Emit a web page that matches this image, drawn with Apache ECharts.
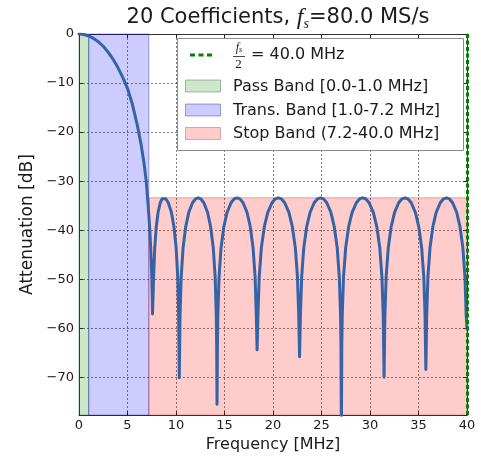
<!DOCTYPE html>
<html>
<head>
<meta charset="utf-8">
<title>FIR filter response</title>
<script src="https://cdn.jsdelivr.net/npm/echarts@6/dist/echarts.min.js"></script>
<style>
  html, body { margin: 0; padding: 0; background: #ffffff; }
  #chart { width: 481px; height: 458px; }
</style>
</head>
<body>
<div id="chart"></div>
<script>
// Magnitude response of the 20-tap low-pass FIR (frequency in MHz, level in dB)
const freqMHz = [
  0, 0.5, 1.0, 1.5, 2.0, 2.5, 3.0, 3.5, 4.0, 4.5, 5.0, 5.5, 6.0, 6.4, 6.7, 6.93,
  7.1, 7.2, 7.3, 7.4, 7.47, 7.51, 7.55, 7.58,
  7.694, 7.808, 7.968, 8.15, 8.378, 8.56, 8.72, 8.947, 9.206, 9.53, 9.789, 10.016, 10.178, 10.275, 10.308, 10.34,
  10.379, 10.418, 10.535, 10.729, 11.001, 11.313, 11.702, 12.013, 12.285, 12.557, 12.869, 13.258, 13.569, 13.841, 14.036, 14.152, 14.191, 14.23,
  14.271, 14.313, 14.437, 14.643, 14.932, 15.263, 15.676, 16.006, 16.295, 16.584, 16.915, 17.328, 17.658, 17.947, 18.154, 18.277, 18.36,
  18.448, 18.579, 18.798, 19.105, 19.455, 19.893, 20.243, 20.55, 20.857, 21.207, 21.645, 21.995, 22.302, 22.521, 22.652, 22.74,
  22.826, 22.956, 23.171, 23.473, 23.818, 24.249, 24.593, 24.895, 25.197, 25.542, 25.973, 26.317, 26.619, 26.835, 26.964, 27.007, 27.05,
  27.093, 27.138, 27.27, 27.49, 27.798, 28.15, 28.59, 28.942, 29.25, 29.558, 29.91, 30.35, 30.702, 31.01, 31.23, 31.362, 31.406, 31.45,
  31.493, 31.536, 31.666, 31.881, 32.183, 32.528, 32.959, 33.303, 33.605, 33.907, 34.252, 34.683, 35.027, 35.329, 35.545, 35.674, 35.717, 35.76,
  35.802, 35.845, 35.972, 36.184, 36.481, 36.82, 37.244, 37.583, 37.88, 38.177, 38.516, 38.94, 39.279, 39.576, 39.788, 39.915, 40.0
];
const attenDb = [
  0, -0.1, -0.4, -0.9, -1.6, -2.5, -3.7, -5.1, -6.8, -8.8, -11.1, -14.3, -18.5, -22.5, -26.3, -30.0,
  -34.2, -37.0, -40.0, -44.0, -47.5, -50.0, -53.5, -57.1,
  -49.5, -43.6, -39.3, -36.4, -34.4, -33.6, -33.4, -33.6, -34.4, -36.4, -39.3, -43.6, -49.5, -57.4, -63.4, -70.1,
  -63.4, -57.4, -49.5, -43.6, -39.3, -36.4, -34.4, -33.6, -33.4, -33.6, -34.4, -36.4, -39.3, -43.6, -49.5, -57.4, -63.4, -75.5,
  -63.4, -57.4, -49.5, -43.6, -39.3, -36.4, -34.4, -33.6, -33.4, -33.6, -34.4, -36.4, -39.3, -43.6, -49.5, -57.4, -64.4,
  -57.4, -49.5, -43.6, -39.3, -36.4, -34.4, -33.6, -33.4, -33.6, -34.4, -36.4, -39.3, -43.6, -49.5, -57.4, -65.8,
  -57.4, -49.5, -43.6, -39.3, -36.4, -34.4, -33.6, -33.4, -33.6, -34.4, -36.4, -39.3, -43.6, -49.5, -57.4, -63.4, -82.0,
  -63.4, -57.4, -49.5, -43.6, -39.3, -36.4, -34.4, -33.6, -33.4, -33.6, -34.4, -36.4, -39.3, -43.6, -49.5, -57.4, -63.4, -70.0,
  -63.4, -57.4, -49.5, -43.6, -39.3, -36.4, -34.4, -33.6, -33.4, -33.6, -34.4, -36.4, -39.3, -43.6, -49.5, -57.4, -63.4, -68.4,
  -63.4, -57.4, -49.5, -43.6, -39.3, -36.4, -34.4, -33.6, -33.4, -33.6, -34.4, -36.4, -39.3, -43.6, -49.5, -57.4, -60.0
];

// Band edges (MHz) and the stop-band attenuation level (dB)
const passBandMHz = [0.0, 1.0];
const transBandMHz = [1.0, 7.2];
const stopBandMHz = [7.2, 40.0];
const stopBandLevelDb = -33.4;
const nyquistMHz = 40.0;

// Axis ranges and tick spacing
const xRange = [0, 40];
const xTickStep = 5;
const yRange = [-77.7, 0];
const yTickStep = 10;

const legendLabels = [
  '= 40.0 MHz',
  'Pass Band [0.0-1.0 MHz]',
  'Trans. Band [1.0-7.2 MHz]',
  'Stop Band (7.2-40.0 MHz]'
];

const FONT = '"DejaVu Sans", "Liberation Sans", sans-serif';
const MATH = '"Liberation Serif", "DejaVu Serif", serif';
const TXT = '#1a1a1a';

const responseData = freqMHz.map((f, i) => [f, attenDb[i]]);

const chart = echarts.init(document.getElementById('chart'), null, { renderer: 'canvas' });

const gridLine = { show: true, lineStyle: { color: 'rgba(0,0,0,0.5)', type: [2, 2], width: 1 } };
const innerTick = { show: true, inside: true, length: 4, lineStyle: { color: '#222', width: 1 } };
const frameLine = { show: true, onZero: false, lineStyle: { color: '#333', width: 1 } };
const minus = v => String(v).replace('-', '\u2212');

// Legend box (upper right of the plot)
const LX = 177, LY = 38, LW = 286, LH = 112;
const rowY = [55, 86.5, 110.5, 134];
const patchX = 185, textX = 233;
const legendGraphics = [
  { type: 'rect', shape: { x: LX + 0.5, y: LY + 0.5, width: LW, height: LH },
    style: { fill: '#ffffff', stroke: '#8c8c8c', lineWidth: 1 }, z: 100 },
  { type: 'line', shape: { x1: 190, y1: rowY[0], x2: 212, y2: rowY[0] },
    style: { stroke: '#008000', lineWidth: 3, lineDash: [5, 3.5] }, z: 101 },
  // f_s / 2 fraction
  { type: 'text', x: 239, y: 54, z: 101,
    style: { text: '{f|f}{s|s}', align: 'center', verticalAlign: 'bottom',
      rich: { f: { fontFamily: MATH, fontStyle: 'italic', fontSize: 12, fill: TXT },
              s: { fontFamily: MATH, fontStyle: 'italic', fontSize: 8, fill: TXT, verticalAlign: 'bottom', padding: [4, 0, 0, 0] } } } },
  { type: 'line', shape: { x1: 233, y1: 56.5, x2: 245, y2: 56.5 },
    style: { stroke: TXT, lineWidth: 0.8 }, z: 101 },
  { type: 'text', x: 238.5, y: 58, z: 101,
    style: { text: '2', fontFamily: MATH, fontSize: 13, fill: TXT, align: 'center', verticalAlign: 'top' } }
];
legendLabels.forEach((label, i) => {
  legendGraphics.push({
    type: 'text', x: i === 0 ? 251 : textX, y: rowY[i], z: 101,
    style: { text: label, fontFamily: FONT, fontSize: 16, fill: TXT, align: 'left', verticalAlign: 'middle' }
  });
});
const patchFill = ['rgba(0,128,0,0.2)', 'rgba(0,0,255,0.2)', 'rgba(255,0,0,0.2)'];
const patchEdge = ['rgba(0,90,0,0.35)', 'rgba(0,0,160,0.35)', 'rgba(170,0,0,0.3)'];
patchFill.forEach((fill, i) => {
  legendGraphics.push({
    type: 'rect', z: 101,
    shape: { x: patchX + 0.5, y: rowY[i + 1] - 6.5, width: 35, height: 12 },
    style: { fill: fill, stroke: patchEdge[i], lineWidth: 1 }
  });
});

const option = {
  animation: false,
  backgroundColor: '#ffffff',
  textStyle: { fontFamily: FONT },
  title: {
    text: '20 Coefficients, {f|f}{s|s}{t|=80.0 MS/s}',
    left: 273,
    top: 0,
    textAlign: 'center',
    textStyle: {
      fontFamily: FONT, fontSize: 21, fontWeight: 'normal', color: TXT,
      rich: {
        f: { fontFamily: MATH, fontStyle: 'italic', fontSize: 24, color: TXT, lineHeight: 26 },
        s: { fontFamily: MATH, fontStyle: 'italic', fontSize: 14, color: TXT, verticalAlign: 'bottom', lineHeight: 18 },
        t: { fontFamily: FONT, fontSize: 21, color: TXT, lineHeight: 26 }
      }
    }
  },
  grid: { left: 79, right: 14, top: 34, bottom: 39, containLabel: false },
  xAxis: [
    {
      type: 'value', position: 'bottom', min: xRange[0], max: xRange[1], interval: xTickStep,
      name: 'Frequency [MHz]', nameLocation: 'middle', nameGap: 17,
      nameTextStyle: { fontFamily: FONT, fontSize: 16, color: TXT },
      axisLine: frameLine, axisTick: innerTick, splitLine: gridLine,
      axisLabel: { fontFamily: FONT, fontSize: 13, color: TXT, margin: 4 }
    },
    {
      type: 'value', position: 'top', min: xRange[0], max: xRange[1], interval: xTickStep,
      axisLine: frameLine, axisTick: innerTick, splitLine: { show: false }, axisLabel: { show: false }
    }
  ],
  yAxis: [
    {
      type: 'value', position: 'left', min: yRange[0], max: yRange[1],
      minInterval: yTickStep, maxInterval: yTickStep,
      name: 'Attenuation [dB]', nameLocation: 'middle', nameGap: 33, nameRotate: 90,
      nameTextStyle: { fontFamily: FONT, fontSize: 17, color: TXT },
      axisLine: frameLine, axisTick: innerTick, splitLine: gridLine,
      axisLabel: { fontFamily: FONT, fontSize: 13, color: TXT, margin: 5, showMinLabel: false, formatter: minus }
    },
    {
      type: 'value', position: 'right', min: yRange[0], max: yRange[1],
      minInterval: yTickStep, maxInterval: yTickStep,
      axisLine: frameLine, axisTick: innerTick, splitLine: { show: false }, axisLabel: { show: false }
    }
  ],
  series: [
    {
      name: 'bands',
      type: 'line',
      data: [],
      xAxisIndex: 0, yAxisIndex: 0,
      silent: true,
      z: 1,
      markArea: {
        silent: true,
        data: [
          [ { xAxis: passBandMHz[0], yAxis: yRange[1],
              itemStyle: { color: patchFill[0], borderColor: patchEdge[0], borderWidth: 1 } },
            { xAxis: passBandMHz[1], yAxis: yRange[0] } ],
          [ { xAxis: transBandMHz[0], yAxis: yRange[1],
              itemStyle: { color: patchFill[1], borderColor: patchEdge[1], borderWidth: 1 } },
            { xAxis: transBandMHz[1], yAxis: yRange[0] } ],
          [ { xAxis: stopBandMHz[0], yAxis: stopBandLevelDb,
              itemStyle: { color: patchFill[2], borderColor: patchEdge[2], borderWidth: 1 } },
            { xAxis: stopBandMHz[1], yAxis: yRange[0] } ]
        ]
      }
    },
    {
      name: 'response',
      type: 'line',
      data: responseData,
      xAxisIndex: 0, yAxisIndex: 0,
      showSymbol: false,
      symbol: 'none',
      clip: true,
      z: 3,
      lineStyle: { color: '#3563a6', width: 3, join: 'round', cap: 'round' }
    },
    {
      name: 'nyquist',
      type: 'line',
      data: [],
      xAxisIndex: 0, yAxisIndex: 0,
      z: 5,
      markLine: {
        silent: true,
        symbol: ['none', 'none'],
        label: { show: false },
        lineStyle: { color: '#008000', type: [4, 2.5], width: 3 },
        data: [ { xAxis: nyquistMHz } ]
      }
    }
  ],
  graphic: legendGraphics
};

chart.setOption(option);
</script>
</body>
</html>
